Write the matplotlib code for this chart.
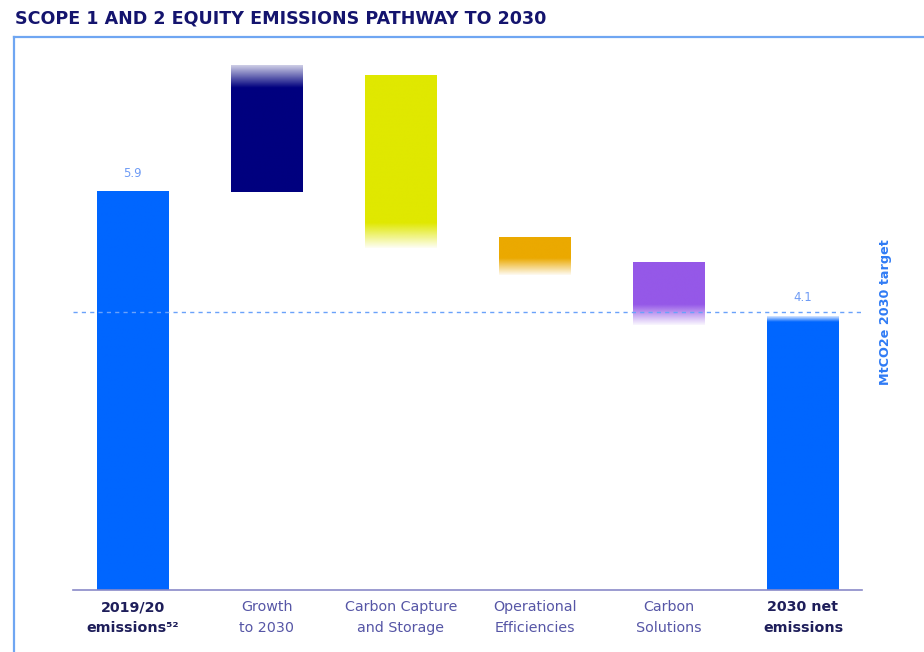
import matplotlib
matplotlib.use("Agg")
import matplotlib.pyplot as plt
import numpy as np
from matplotlib.colors import to_rgba
from matplotlib.lines import Line2D

# ---- data ----
categories = ["2019/20\nemissions⁵²", "Growth\nto 2030", "Carbon Capture\nand Storage",
              "Operational\nEfficiencies", "Carbon\nSolutions", "2030 net\nemissions"]
bar_bottom = [0.0, 5.9, 5.07, 4.67, 3.93, 0.0]
bar_top = [5.9, 7.77, 7.62, 5.23, 4.85, 4.06]
value_labels = ["5.9", "", "", "", "", "4.1"]
target_value = 4.12
target_label = "MtCO2e 2030 target"
title = "SCOPE 1 AND 2 EQUITY EMISSIONS PATHWAY TO 2030"

colors = ["#0066FF", "#00007F", "#E0E800", "#EBA900", "#9558E8", "#0066FF"]
fade_top = [0.0, 0.33, 0.0, 0.0, 0.0, 0.08]
fade_bottom = [0.0, 0.0, 0.37, 0.25, 0.30, 0.0]
bold_labels = [True, False, False, False, False, True]

plt.rcParams['font.family'] = ['DejaVu Sans']

fig = plt.figure(figsize=(9.24, 6.52), dpi=100)
W, H = 924, 652
ax = fig.add_axes([73 / W, 1 - 590 / H, 789 / W, 550 / H])
ymax = 550 / 67.46
xlim = (-0.444, 5.44)
bw = 0.53

for i, (b, t, c) in enumerate(zip(bar_bottom, bar_top, colors)):
    n = 300
    ys = np.linspace(b, t, n)
    alpha = np.ones(n)
    if fade_top[i] > 0:
        s = t - fade_top[i]
        m = ys > s
        alpha[m] = 1 - 0.8 * (ys[m] - s) / fade_top[i]
    if fade_bottom[i] > 0:
        s = b + fade_bottom[i]
        m = ys < s
        alpha[m] = 1 - 0.95 * (s - ys[m]) / fade_bottom[i]
    rgba = np.zeros((n, 1, 4))
    rgba[..., :3] = to_rgba(c)[:3]
    rgba[:, 0, 3] = alpha
    ax.imshow(rgba, extent=[i - bw / 2, i + bw / 2, b, t], origin='lower',
              aspect='auto', interpolation='bilinear', zorder=2)
    if value_labels[i]:
        ax.text(i, t + 0.18, value_labels[i], ha='center', va='bottom',
                fontsize=8.5, color="#6E9BF5")

ax.axhline(target_value, color="#6AA2FA", lw=1.0, ls=(0, (3, 3)), zorder=3)

ax.set_xlim(*xlim)
ax.set_ylim(0, ymax)
for s in ["top", "right", "left"]:
    ax.spines[s].set_visible(False)
ax.spines["bottom"].set_color("#8A8AC8")
ax.spines["bottom"].set_linewidth(1.2)
ax.set_yticks([])
ax.set_xticks(range(len(categories)))
ax.set_xticklabels([])
ax.tick_params(axis='x', length=0)
for i, lab in enumerate(categories):
    if bold_labels[i]:
        ax.text(i, -0.15, lab, ha='center', va='top', fontsize=10.3,
                fontweight='bold', color="#1E1E5A", linespacing=1.6,
                transform=ax.transData)
    else:
        ax.text(i, -0.15, lab, ha='center', va='top', fontsize=10.3,
                color="#5656A6", linespacing=1.6, transform=ax.transData)

fig.text(886 / W, 1 - 312 / H, target_label, rotation=90, ha='center', va='center',
         fontsize=9.2, fontweight='bold', color="#2F7BF5")

fig.text(15 / W, 1 - 18 / H, title, ha='left', va='center', fontsize=12.6,
         fontweight='bold', color="#14146E")

fig.add_artist(Line2D([14 / W, 1.0], [1 - 37 / H, 1 - 37 / H], color="#6FA6F2", lw=1.6))
fig.add_artist(Line2D([14 / W, 14 / W], [0, 1 - 37 / H], color="#6FA6F2", lw=1.6))

fig.savefig("out.png", dpi=100)
